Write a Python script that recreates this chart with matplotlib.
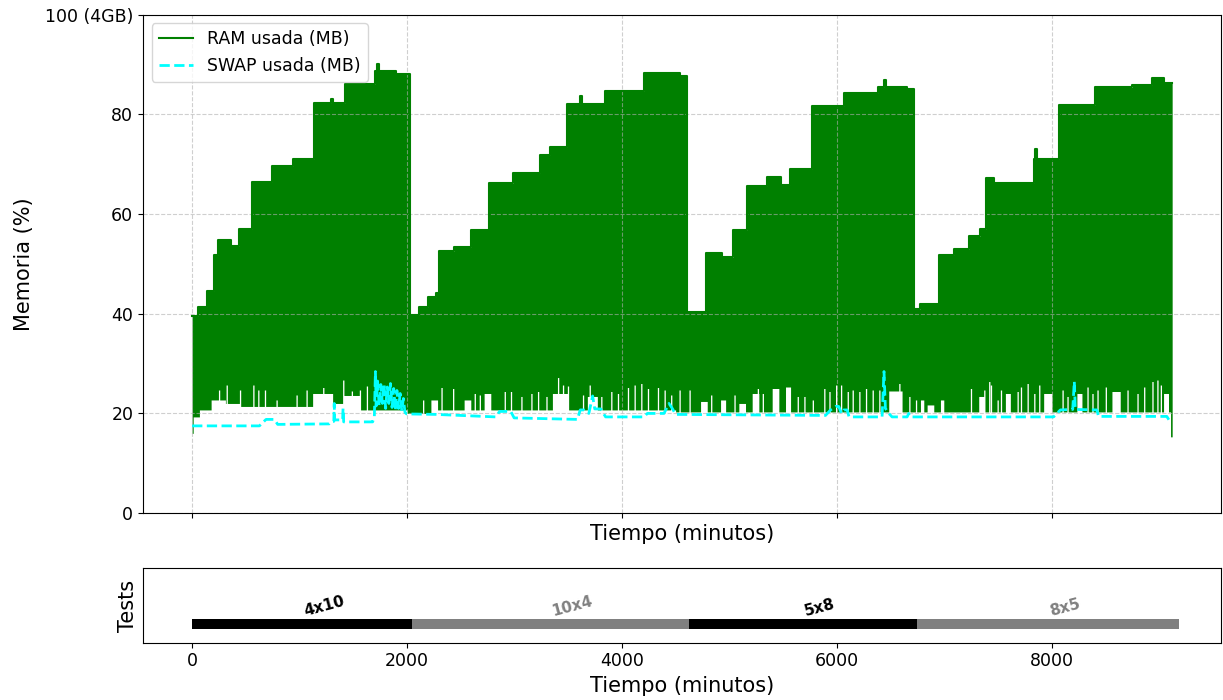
import matplotlib
matplotlib.use('Agg')
import matplotlib.pyplot as plt
import numpy as np

# RAM usage: upper level of each memory step (minutes, %)
ram_top_t = [0, 58, 137, 202, 239, 362, 434, 555, 743, 941, 1136, 1290, 1310, 1422, 1703, 1720, 1740, 1900,
             2030, 2112, 2196, 2267, 2292, 2437, 2592, 2757, 2989, 3236, 3329, 3484, 3605, 3625, 3837, 4203, 4540,
             4606, 4783, 4931, 5033, 5163, 5349, 5479, 5559, 5767, 6061, 6377, 6435, 6455, 6650,
             6711, 6774, 6944, 7084, 7229, 7331, 7384, 7460, 7827, 7840, 7860, 8065, 8400, 8746, 8926, 9041, 9115]
ram_top = [39.6, 41.4, 44.6, 51.8, 54.8, 53.5, 57.0, 66.5, 69.7, 71.1, 82.3, 83.1, 82.3, 86.1, 88.8, 90.1, 88.8, 88.2,
           39.8, 41.4, 43.4, 44.1, 52.5, 53.3, 56.8, 66.2, 68.3, 71.9, 73.4, 82.1, 83.7, 82.1, 84.7, 88.4, 87.8,
           40.4, 52.2, 51.3, 56.8, 65.7, 67.5, 65.9, 69.1, 81.7, 84.3, 85.5, 86.8, 85.5, 85.0,
           40.9, 42.0, 51.8, 53.0, 55.5, 57.0, 67.2, 66.2, 71.1, 73.0, 71.1, 81.9, 85.4, 85.9, 87.3, 86.2, 86.2]

# RAM usage: bottom of the oscillation
ram_low_t = [0, 10, 68, 177, 310, 440, 1121, 1307, 1400, 1555, 2000,
             2221, 2283, 2530, 2592, 2716, 2778, 3351, 3490, 3676, 3769,
             4497, 4729, 4791, 4915, 4962, 5085, 5147, 5209, 5271, 5395, 5457, 5519, 5566, 6479, 6603,
             6774, 6805, 6836, 6898, 6960, 6991, 7316, 7362, 7564, 7610, 7920, 7997, 8229, 8276,
             8555, 8632, 9035, 9081, 9100]
ram_low = [16.0, 19.3, 20.7, 22.7, 22.0, 21.4, 24.0, 22.0, 23.6, 20.7, 20.0,
           22.7, 20.7, 22.7, 20.7, 24.0, 20.7, 24.0, 20.7, 23.4, 20.7,
           20.3, 22.4, 20.3, 22.7, 20.3, 22.0, 20.3, 24.0, 20.3, 25.0, 20.3, 25.3, 20.3, 24.5, 20.3,
           22.7, 20.3, 21.7, 20.3, 22.7, 20.3, 23.4, 20.3, 24.0, 20.3, 24.0, 20.3, 24.0, 20.3,
           24.4, 20.3, 24.0, 20.3, 15.3]

# short upward peaks of the RAM minimum
ram_peak_t = [245, 316, 440, 564, 610, 672, 780, 966, 1059, 1214, 1400, 1480, 1555, 1620, 2143, 2252,
              2314, 2422, 2623, 2670, 2902, 2960, 3057, 3150, 3212, 3290, 3398, 3444, 3490, 3630, 3692, 3800,
              3893, 3955, 4048, 4110, 4172, 4234, 4327, 4389, 4450, 4528,
              4621, 4822, 5039, 5256, 5302, 5627, 5689, 5767, 5874, 5922, 5984, 6030, 6092, 6138, 6200, 6262,
              6324, 6386, 6572, 6665, 6727,
              7238, 7362, 7408, 7424, 7486, 7517, 7672, 7703, 7765, 7827, 7873, 8090, 8136, 8322, 8368, 8415,
              8492, 8694, 8787, 8849, 8926, 8972, 9004]
ram_peak = [24.7, 25.7, 24.7, 25.7, 24.7, 24.7, 22.7, 23.7, 24.7, 25.2, 26.7, 24.5, 24.7, 25.5, 22.7, 22.7,
            25.2, 25.0, 24.0, 23.7, 24.4, 24.4, 23.4, 24.0, 24.4, 23.4, 27.2, 25.7, 25.5, 23.7, 25.7, 23.4,
            24.4, 24.0, 25.2, 25.7, 26.0, 25.0, 25.2, 24.7, 23.7, 24.7,
            24.7, 23.7, 23.7, 25.0, 24.0, 23.4, 23.4, 22.7, 25.0, 24.4, 25.7, 25.7, 24.4, 24.7, 24.4, 25.0,
            24.7, 24.7, 26.0, 23.4, 22.7,
            25.0, 24.7, 26.4, 25.7, 22.7, 24.7, 24.4, 25.3, 26.0, 24.0, 25.7, 24.7, 23.4, 25.3, 24.0, 24.7,
            25.3, 24.7, 24.0, 25.3, 26.4, 26.7, 25.7]

# SWAP usage
swap_t = [0, 626, 688, 765, 796, 1276, 1300, 1318, 1322, 1326, 1400, 1404, 1410, 1679, 1695, 1705, 1712,
          1725, 1740, 1755, 1770, 1785, 1800, 1815, 1830, 1845, 1860, 1875, 1890, 1905, 1920, 1935, 1950,
          1965, 1980, 1995, 2270, 2825, 2860, 2964, 2995, 3583, 3610, 3645, 3690, 3725, 3745, 3800, 3846,
          4203, 4234, 4389, 4435, 4466, 4497, 5891, 5938, 5984, 6014, 6040, 6061, 6092, 6110, 6417, 6435,
          6448, 6480, 6510, 6650, 6665, 6680, 8012, 8075, 8190, 8205, 8214, 8415, 8430, 9065, 9100]
swap = [17.5, 17.5, 18.8, 18.8, 17.8, 17.9, 18.4, 18.4, 22.0, 18.7, 18.7, 21.0, 18.3, 18.3, 19.3, 28.4, 21.5,
        26.5, 21.5, 25.8, 22.0, 26.0, 21.0, 25.3, 22.0, 26.0, 21.2, 25.0, 20.6, 24.6, 21.0, 24.0, 20.5,
        23.0, 20.2, 19.9, 19.8, 19.3, 20.4, 20.4, 19.1, 18.8, 20.7, 20.7, 20.0, 23.5, 20.9, 20.9, 19.3,
        19.3, 20.0, 20.0, 22.0, 21.0, 19.8, 19.6, 20.7, 21.4, 21.4, 20.0, 20.7, 20.7, 19.3, 19.3, 28.4,
        21.0, 20.0, 19.3, 19.3, 20.0, 19.3, 19.3, 20.7, 20.8, 26.4, 20.8, 20.7, 19.4, 19.4, 18.2]

# test runs
tests = ['4x10', '10x4', '5x8', '8x5']
test_start = [0, 2044, 4618, 6741]
test_end = [2044, 4618, 6741, 9180]
test_colors = ['black', 'gray', 'black', 'gray']


def step_value(ts, vals, t):
    idx = np.searchsorted(ts, t, side='right') - 1
    return np.asarray(vals)[np.clip(idx, 0, len(vals) - 1)]


peak_w = 12
grid = np.unique(np.concatenate([ram_top_t, ram_low_t, ram_peak_t, np.array(ram_peak_t) + peak_w]))
upper = step_value(ram_top_t, ram_top, grid)
lower = step_value(ram_low_t, ram_low, grid)
for pt, pv in zip(ram_peak_t, ram_peak):
    sel = (grid >= pt) & (grid < pt + peak_w)
    lower[sel] = np.maximum(lower[sel], pv)

fig = plt.figure(figsize=(12.23, 7), dpi=100)
ax1 = fig.add_axes([0.117, 0.267, 0.8815, 0.712])
ax2 = fig.add_axes([0.117, 0.082, 0.8815, 0.106])

ax1.fill_between(grid, lower, upper, step='post', color='green', lw=0)
ax1.plot(grid, upper, drawstyle='steps-post', color='green', lw=1.5, label='RAM usada (MB)')
ax1.plot(swap_t, swap, color='cyan', ls='--', lw=2, label='SWAP usada (MB)')
ax1.set_ylim(0, 100)
ax1.set_yticks([0, 20, 40, 60, 80, 100])
ax1.set_yticklabels(['0', '20', '40', '60', '80', '100 (4GB)'])
ax1.tick_params(labelbottom=False, labelsize=12.5)
ax1.set_xticks([0, 2000, 4000, 6000, 8000])
ax1.grid(True, ls='--', alpha=0.6)
ax1.set_ylabel('Memoria (%)', fontsize=15, labelpad=8)
ax1.set_xlabel('Tiempo (minutos)', fontsize=15)
ax1.legend(loc='upper left', fontsize=12.5)

for name, s, e, c in zip(tests, test_start, test_end, test_colors):
    ax2.hlines(0, s, e, colors=c, lw=7.2)
    ax2.text((s + e) / 2, 0.15, name, color=c, fontsize=11, fontweight='bold',
             rotation=15, ha='left', va='bottom')
ax2.set_ylim(-0.5, 1.5)
ax2.set_yticks([])
ax2.set_xlim(ax1.get_xlim())
ax2.set_xticks([0, 2000, 4000, 6000, 8000])
ax2.tick_params(labelsize=12.5)
ax2.set_ylabel('Tests', fontsize=15)
ax2.set_xlabel('Tiempo (minutos)', fontsize=15)

plt.savefig('out.png', dpi=100)
